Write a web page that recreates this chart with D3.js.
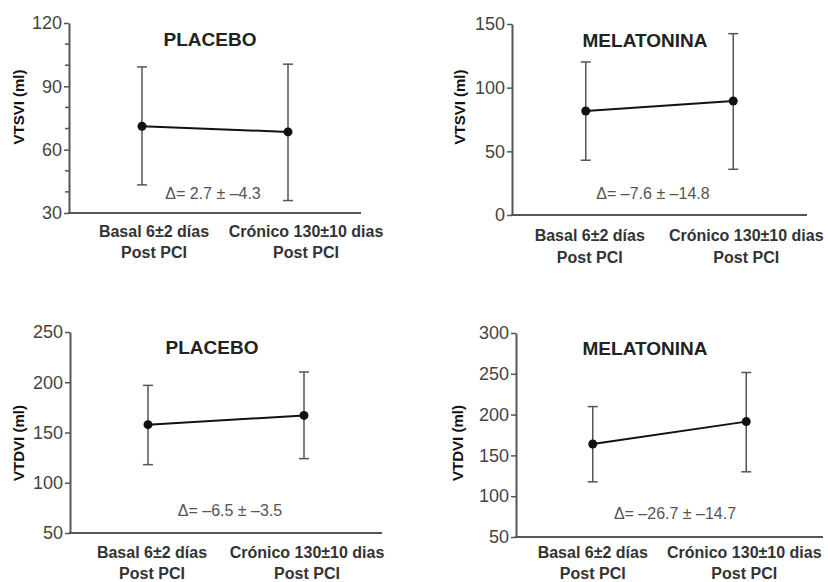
<!DOCTYPE html>
<html>
<head>
<meta charset="utf-8">
<script src="https://cdn.jsdelivr.net/npm/d3@7"></script>
<style>
  body { margin: 0; background: #fff; }
  svg { font-family: "Liberation Sans", Arial, sans-serif; }
</style>
</head>
<body>
<svg id="chart" width="828" height="582"></svg>
<script>
// categories (two lines each)
var categories = ["Basal 6±2 días", "Crónico 130±10 dias"];
var categorySub = ["Post PCI", "Post PCI"];

var titles = ["PLACEBO", "MELATONINA", "PLACEBO", "MELATONINA"];
var yLabels = ["VTSVI (ml)", "VTSVI (ml)", "VTDVI (ml)", "VTDVI (ml)"];
var deltaLabels = ["Δ= 2.7 ± –4.3", "Δ= –7.6 ± –14.8", "Δ= –6.5 ± –3.5", "Δ= –26.7 ± –14.7"];

// y axis domains and tick values
var yDomains = [[30, 120], [0, 150], [50, 250], [50, 300]];
var yTicks = [[30, 60, 90, 120], [0, 50, 100, 150], [50, 100, 150, 200, 250], [50, 100, 150, 200, 250, 300]];
var yMinorTicks = [[40, 50, 70, 80, 100, 110], [], [], []];

// means and error bar ends, per panel [basal, crónico]
var vtsviPlaceboMean = [71.1, 68.4];
var vtsviPlaceboUpper = [99.2, 100.5];
var vtsviPlaceboLower = [43.3, 35.9];

var vtsviMelatoninaMean = [81.7, 89.5];
var vtsviMelatoninaUpper = [120.2, 142.4];
var vtsviMelatoninaLower = [43.0, 35.9];

var vtdviPlaceboMean = [157.8, 167.0];
var vtdviPlaceboUpper = [196.9, 210.2];
var vtdviPlaceboLower = [118.0, 124.0];

var vtdviMelatoninaMean = [164.0, 191.4];
var vtdviMelatoninaUpper = [209.8, 251.6];
var vtdviMelatoninaLower = [117.6, 129.9];

var means = [vtsviPlaceboMean, vtsviMelatoninaMean, vtdviPlaceboMean, vtdviMelatoninaMean];
var uppers = [vtsviPlaceboUpper, vtsviMelatoninaUpper, vtdviPlaceboUpper, vtdviMelatoninaUpper];
var lowers = [vtsviPlaceboLower, vtsviMelatoninaLower, vtdviPlaceboLower, vtdviMelatoninaLower];

// layout of each panel on the page
var layout = [
    { left: 69, right: 361, top: 23, bottom: 213, titleX: 210, titleY: 46, deltaX: 213, deltaY: 199, ylabX: 19, ylabY: 107, labDx: [12, 18], labY: [237, 258] },
    { left: 512, right: 807, top: 24, bottom: 215, titleX: 645, titleY: 47, deltaX: 653, deltaY: 199, ylabX: 460, ylabY: 107, labDx: [4, 13], labY: [241, 263] },
    { left: 70, right: 382, top: 332, bottom: 533, titleX: 212, titleY: 354, deltaX: 230, deltaY: 516, ylabX: 19, ylabY: 443, labDx: [4, 3], labY: [558, 579] },
    { left: 516, right: 823, top: 333, bottom: 537, titleX: 645, titleY: 355, deltaX: 675, deltaY: 519, ylabX: 458, ylabY: 443, labDx: [0, -2], labY: [558, 579] }
];

var svg = d3.select("#chart");
var axisColor = "#555";

layout.forEach(function (L, i) {
    var g = svg.append("g");
    var x = d3.scalePoint().domain(categories).range([L.left, L.right]).padding(0.5);
    var y = d3.scaleLinear().domain(yDomains[i]).range([L.bottom, L.top]);

    // y axis
    var ya = g.append("g")
        .attr("transform", "translate(" + L.left + ",0)")
        .call(d3.axisLeft(y).tickValues(yTicks[i]).tickSize(5).tickPadding(2).tickSizeOuter(0));
    ya.select(".domain").attr("stroke", axisColor).attr("stroke-width", 2);
    ya.selectAll(".tick line").attr("stroke", axisColor).attr("stroke-width", 1.5);
    ya.selectAll(".tick text").attr("fill", "#444").style("font-size", "18px");

    g.selectAll(".minor")
        .data(yMinorTicks[i])
        .enter().append("line")
        .attr("x1", L.left - 4).attr("x2", L.left)
        .attr("y1", function (d) { return y(d); })
        .attr("y2", function (d) { return y(d); })
        .attr("stroke", axisColor).attr("stroke-width", 1.5);

    // x axis line
    g.append("line")
        .attr("x1", L.left - 1).attr("x2", L.right)
        .attr("y1", L.bottom).attr("y2", L.bottom)
        .attr("stroke", axisColor).attr("stroke-width", 2);

    // category labels
    categories.forEach(function (c, k) {
        var cx = x(c) + L.labDx[k];
        g.append("text").attr("x", cx).attr("y", L.labY[0])
            .attr("text-anchor", "middle").attr("fill", "#333")
            .style("font-size", "16px").style("font-weight", "bold").text(c);
        g.append("text").attr("x", cx).attr("y", L.labY[1])
            .attr("text-anchor", "middle").attr("fill", "#333")
            .style("font-size", "16px").style("font-weight", "bold").text(categorySub[k]);
    });

    // error bars
    categories.forEach(function (c, k) {
        var cx = x(c);
        g.append("line").attr("x1", cx).attr("x2", cx)
            .attr("y1", y(uppers[i][k])).attr("y2", y(lowers[i][k]))
            .attr("stroke", axisColor).attr("stroke-width", 1.5);
        [uppers[i][k], lowers[i][k]].forEach(function (v) {
            g.append("line").attr("x1", cx - 5).attr("x2", cx + 5)
                .attr("y1", y(v)).attr("y2", y(v))
                .attr("stroke", axisColor).attr("stroke-width", 1.5);
        });
    });

    // mean line and points
    var pts = categories.map(function (c, k) { return [x(c), y(means[i][k])]; });
    g.append("path").attr("d", d3.line()(pts))
        .attr("fill", "none").attr("stroke", "#111").attr("stroke-width", 2);
    g.selectAll(".dot").data(pts).enter().append("circle")
        .attr("cx", function (d) { return d[0]; })
        .attr("cy", function (d) { return d[1]; })
        .attr("r", 4.5).attr("fill", "#111");

    // title
    g.append("text").attr("x", L.titleX).attr("y", L.titleY)
        .attr("text-anchor", "middle").attr("fill", "#222")
        .style("font-size", "19px").style("font-weight", "bold").text(titles[i]);

    // delta
    g.append("text").attr("x", L.deltaX).attr("y", L.deltaY)
        .attr("text-anchor", "middle").attr("fill", "#555")
        .style("font-size", "16px").text(deltaLabels[i]);

    // y label
    g.append("text")
        .attr("transform", "translate(" + (L.ylabX + 5) + "," + L.ylabY + ") rotate(-90)")
        .attr("text-anchor", "middle").attr("fill", "#111")
        .style("font-size", "15px").style("font-weight", "bold").text(yLabels[i]);
});
</script>
</body>
</html>
